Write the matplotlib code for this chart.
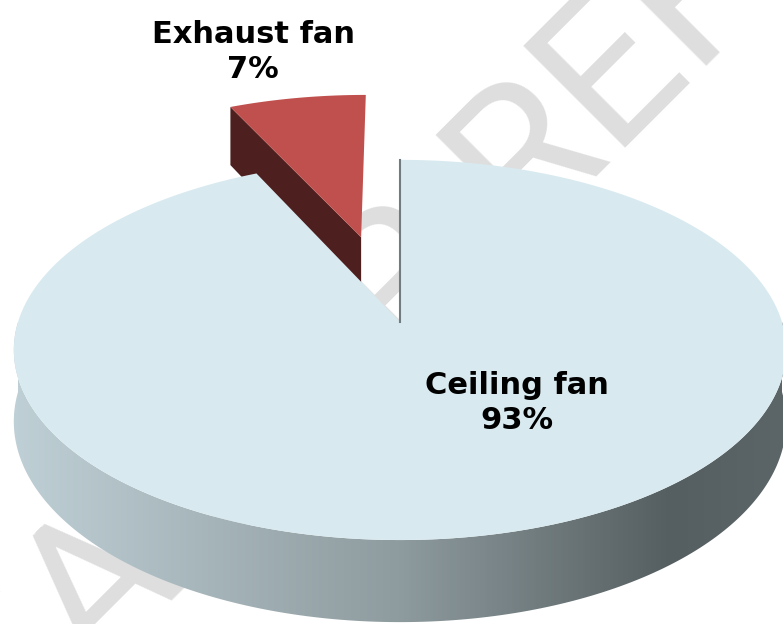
import numpy as np
import matplotlib
matplotlib.use("Agg")
import matplotlib.pyplot as plt
from matplotlib.patches import Polygon
from matplotlib.colors import LinearSegmentedColormap

# data
labels = ["Ceiling fan", "Exhaust fan"]
shares = [93, 7]
top_colors = ["#d8eaf0", "#c0504d"]
cut_color = "#4d1f1e"

# 3d pie geometry (pixel space, perspective)
CX, CY = 400, 322
A, B, K, T = 382, 186, 0.147, 70
EXPLODE = 0.5


def proj(u, v, z=0.0):
    s = 1 + K * v
    return CX + A * u / s, CY - B * v / s + T * z / s


def arc(t0, t1, du=0.0, dv=0.0, z=0.0, n=200):
    th = np.radians(np.linspace(t0, t1, n))
    return [proj(du + np.cos(t), dv + np.sin(t), z) for t in th]


fig = plt.figure(figsize=(7.83, 6.24), dpi=100)
ax = fig.add_axes([0, 0, 1, 1])
ax.set_xlim(0, 783)
ax.set_ylim(624, 0)
ax.axis("off")

# watermark
ax.text(-178, 952, "DATA FOR REFERENCE", rotation=45, rotation_mode="anchor",
        ha="left", va="baseline", fontsize=146, color="#dedede", zorder=0,
        family=["Roboto", "DejaVu Sans"])

# angles: ceiling starts at 12 o'clock going clockwise
total = sum(shares)
ex_span = 360 * shares[1] / total
ex_start, ex_end = 90, 90 + ex_span
mid = np.radians((ex_start + ex_end) / 2)
du, dv = EXPLODE * np.cos(mid), EXPLODE * np.sin(mid)

# exhaust slice (exploded)
eu, ev = np.cos(np.radians(ex_end)), np.sin(np.radians(ex_end))
cut = [proj(du, dv), proj(du + eu, dv + ev), proj(du + eu, dv + ev, 1), proj(du, dv, 1)]
ax.add_patch(Polygon(cut, closed=True, fc=cut_color, ec="none", zorder=2))
ex_top = [proj(du, dv)] + arc(ex_start, ex_end, du, dv)
ax.add_patch(Polygon(ex_top, closed=True, fc=top_colors[1], ec="none", zorder=3))

# ceiling slice side with gradient
side = arc(180, 360) + arc(360, 180, z=1)
side_patch = Polygon(side, closed=True, fc="none", ec="none", zorder=4)
ax.add_patch(side_patch)
grad_cmap = LinearSegmentedColormap.from_list(
    "side", [(0, "#bfd0d6"), (0.5, "#8e9b9f"), (0.85, "#555e60"), (1, "#5c6567")])
g = np.linspace(0, 1, 400).reshape(1, -1)
im = ax.imshow(g, cmap=grad_cmap, extent=[8, 790, 630, 300], aspect="auto", zorder=4)
im.set_clip_path(side_patch)

# ceiling top face
ce_top = [proj(0, 0)] + arc(ex_end, 450)
ax.add_patch(Polygon(ce_top, closed=True, fc=top_colors[0], ec="none", zorder=5))
x0, y0 = proj(0, 0)
x1, y1 = proj(0, 1)
ax.plot([x0, x1], [y0, y1], color="#6f7c82", lw=1.5, zorder=6)

# labels
ax.text(253, 52, f"{labels[1]}\n{shares[1]}%", ha="center", va="center",
        fontsize=22, fontweight="bold", linespacing=1.25, zorder=7)
ax.text(517, 403, f"{labels[0]}\n{shares[0]}%", ha="center", va="center",
        fontsize=22, fontweight="bold", linespacing=1.25, zorder=7)

fig.savefig("out.png", dpi=100)
